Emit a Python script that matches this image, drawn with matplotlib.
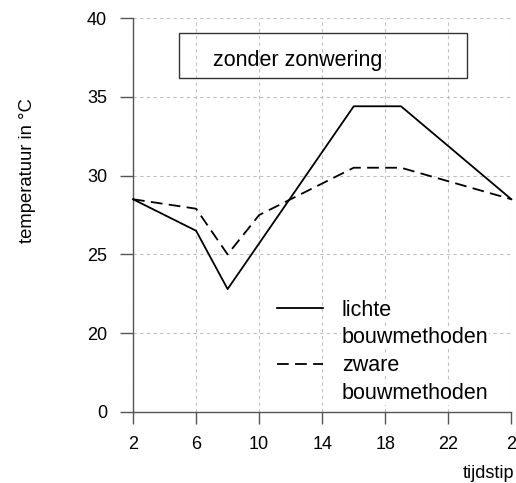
import matplotlib
matplotlib.use("Agg")
import matplotlib.pyplot as plt
from matplotlib.patches import Rectangle

plt.rcParams['font.family'] = ['Liberation Sans', 'DejaVu Sans']

# temperature over the day, hours 2 .. 26 (= 2 the next night)
hours_licht = [2, 6, 8, 16, 19, 26]
temp_licht = [28.5, 26.5, 22.8, 34.4, 34.4, 28.5]
hours_zwaar = [2, 6, 8, 10, 14, 16, 19, 26]
temp_zwaar = [28.5, 27.9, 25.0, 27.5, 29.5, 30.5, 30.5, 28.5]

xticks = [2, 6, 10, 14, 18, 22, 26]
xticklabels = ['2', '6', '10', '14', '18', '22', '2']
# the y axis is broken: the lowest tick stands for 0
yticks = [15, 20, 25, 30, 35, 40]
yticklabels = ['0', '20', '25', '30', '35', '40']

DASH = (0, (6.5, 3.5))

fig = plt.figure(figsize=(5.16, 4.83), dpi=100)
ax = fig.add_axes([0.2578, 0.147, 0.991 - 0.2578, 0.9627 - 0.147])

ax.plot(hours_licht, temp_licht, color='black', lw=1.3, clip_on=False, zorder=3)
ax.plot(hours_zwaar, temp_zwaar, color='black', lw=1.3, ls=DASH,
        clip_on=False, zorder=3)

ax.set_xlim(2, 26)
ax.set_ylim(15, 40)
ax.set_xticks(xticks)
ax.set_xticklabels(xticklabels)
ax.set_yticks(yticks)
ax.set_yticklabels(yticklabels)

ax.grid(True, color='#c0c0c0', ls=(0, (3, 3)), lw=0.8)
ax.set_axisbelow(True)
for s in ['top', 'right']:
    ax.spines[s].set_visible(False)
for s in ['left', 'bottom']:
    ax.spines[s].set_color('#555555')
    ax.spines[s].set_linewidth(1.0)
ax.tick_params(axis='y', length=9.7, width=1.0, color='#555555', pad=9,
               labelsize=13)
ax.tick_params(axis='x', length=8.4, width=1.0, color='#555555', pad=8.6,
               labelsize=13)

# title box
ax.add_patch(Rectangle((4.92, 36.2), 18.27, 2.83, fill=False, ec='#333333',
                       lw=1.0, zorder=4))
ax.text(12.47, 36.97, 'zonder zonwering', ha='center', va='baseline',
        fontsize=15.5, zorder=5)

# legend drawn by hand
ax.plot([0.380, 0.501], [0.263, 0.263], transform=ax.transAxes,
        color='black', lw=1.3)
ax.plot([0.380, 0.501], [0.121, 0.121], transform=ax.transAxes,
        color='black', lw=1.3, ls=DASH)
for txt, yy in [('lichte', 0.2437), ('bouwmethoden', 0.1759),
                ('zware', 0.104), ('bouwmethoden', 0.0322)]:
    ax.text(0.552, yy, txt, transform=ax.transAxes, ha='left', va='baseline',
            fontsize=15.5, bbox=dict(fc='white', ec='none', pad=0.3))

fig.text(28 / 516, 1 - 171 / 483, 'temperatuur in °C', rotation=90,
         ha='center', va='center', fontsize=13.3)
fig.text(514 / 516, 1 - 474 / 483, 'tijdstip', ha='right', va='center',
         fontsize=13)

fig.savefig('out.png', dpi=100)
